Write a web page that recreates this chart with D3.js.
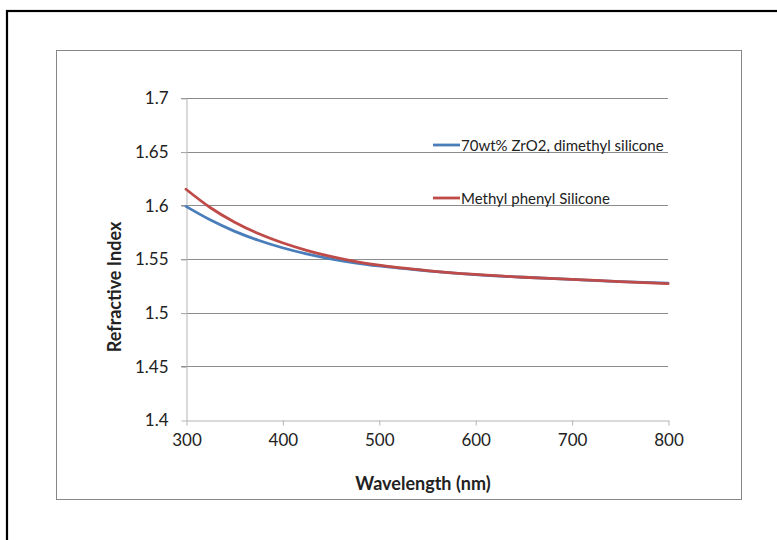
<!DOCTYPE html>
<html>
<head>
<meta charset="utf-8">
<script src="https://cdn.jsdelivr.net/npm/d3@7"></script>
<style>
  body { margin: 0; background: #fff; }
  text { font-family: Lato, "Open Sans", sans-serif; fill: #222; }
</style>
</head>
<body>
<svg id="chart" width="777" height="540"></svg>
<script>
// --- data ---
const wavelengths = [300, 325, 350, 375, 400, 425, 450, 475, 500, 550, 600, 650, 700, 750, 800];
const zro2Values  = [1.599, 1.5865, 1.576, 1.5675, 1.5605, 1.5548, 1.5502, 1.5465, 1.5435, 1.539, 1.5355, 1.533, 1.531, 1.529, 1.5275];
const phenylValues = [1.615, 1.598, 1.5845, 1.5737, 1.5651, 1.5581, 1.5524, 1.5478, 1.5442, 1.5392, 1.5356, 1.533, 1.531, 1.529, 1.527];
const xTicks = [300, 400, 500, 600, 700, 800];
const yTicks = [1.4, 1.45, 1.5, 1.55, 1.6, 1.65, 1.7];
const seriesNames = ["70wt% ZrO2, dimethyl silicone", "Methyl phenyl Silicone"];
const seriesColors = ["#4A7EBB", "#BE4B48"];

const series = [zro2Values, phenylValues].map((vals, i) => ({
  name: seriesNames[i],
  color: seriesColors[i],
  points: wavelengths.map((w, j) => ({ w, n: vals[j] }))
}));

const svg = d3.select("#chart");

// outer frame (black) and chart area frame (gray)
svg.append("rect").attr("x", 7).attr("y", 11).attr("width", 800).attr("height", 560)
  .attr("fill", "none").attr("stroke", "#000").attr("stroke-width", 2.2);
svg.append("rect").attr("x", 56.5).attr("y", 50.5).attr("width", 685).attr("height", 449)
  .attr("fill", "none").attr("stroke", "#868686").attr("stroke-width", 1);

const x = d3.scaleLinear().domain([300, 800]).range([186, 668]);
const y = d3.scaleLinear().domain([1.4, 1.7]).range([420, 98]);

// gridlines
svg.append("g")
  .selectAll("line")
  .data(yTicks.filter(t => t > 1.4))
  .join("line")
  .attr("x1", 181).attr("x2", 668)
  .attr("y1", d => Math.round(y(d)) + 0.5).attr("y2", d => Math.round(y(d)) + 0.5)
  .attr("stroke", "#8c8c8c").attr("stroke-width", 1);

// y axis
const yAxis = svg.append("g").attr("transform", "translate(186.5,0.5)")
  .call(d3.axisLeft(y).tickValues(yTicks).tickSize(5).tickSizeOuter(0).tickPadding(13)
    .tickFormat(d => String(+d.toFixed(2))));
yAxis.select(".domain").attr("stroke", "#b4b4b4");
yAxis.selectAll(".tick line").attr("stroke", "#b4b4b4");
yAxis.selectAll("text").style("font-size", "17px").attr("fill", "#222");

// x axis
const xAxis = svg.append("g").attr("transform", "translate(0.5,420.5)")
  .call(d3.axisBottom(x).tickValues(xTicks).tickSize(5).tickSizeOuter(0).tickPadding(8));
xAxis.select(".domain").attr("stroke", "#b4b4b4");
xAxis.selectAll(".tick line").attr("stroke", "#b4b4b4");
xAxis.selectAll("text").style("font-size", "17px").attr("fill", "#222");

// curves
const line = d3.line().x(d => x(d.w)).y(d => y(d.n)).curve(d3.curveMonotoneX);
svg.append("g")
  .selectAll("path")
  .data(series)
  .join("path")
  .attr("d", d => line(d.points))
  .attr("fill", "none")
  .attr("stroke", d => d.color)
  .attr("stroke-width", 2.8)
  .attr("stroke-linecap", "round");

// legend
const legendY = [145, 198];
const legend = svg.append("g").selectAll("g").data(series).join("g")
  .attr("transform", (d, i) => `translate(433,${legendY[i]})`);
legend.append("line").attr("x1", 0).attr("x2", 27).attr("y1", 0).attr("y2", 0)
  .attr("stroke", d => d.color).attr("stroke-width", 2.8);
legend.append("text").attr("x", 28).attr("y", 5.5)
  .style("font-size", "15px").text(d => d.name);

// axis titles
svg.append("text").attr("x", 423).attr("y", 490).attr("text-anchor", "middle")
  .style("font-size", "18px").style("font-weight", "700").text("Wavelength (nm)");
svg.append("text").attr("transform", "translate(121,287) rotate(-90)").attr("text-anchor", "middle")
  .style("font-size", "18px").style("font-weight", "700").text("Refractive Index");
</script>
</body>
</html>
